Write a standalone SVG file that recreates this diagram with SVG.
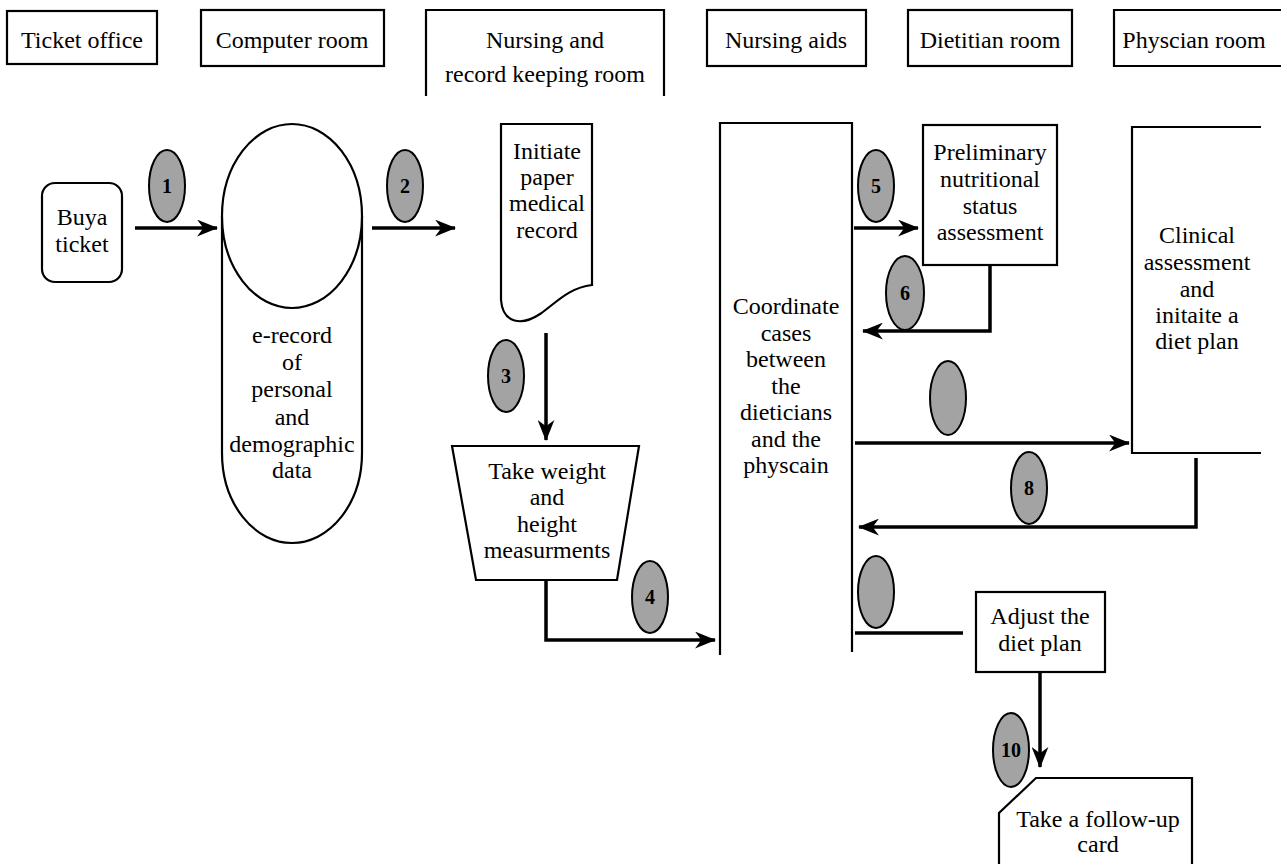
<svg xmlns="http://www.w3.org/2000/svg" width="1281" height="864" viewBox="0 0 1281 864">
<style>
  .box{fill:#fff;stroke:#000;stroke-width:2.2}
  .open{fill:none;stroke:#000;stroke-width:2.2}
  .t{font-family:"Liberation Serif","Times New Roman",serif;font-size:24px;fill:#000;text-anchor:middle}
  .badge{fill:#a3a3a3;stroke:#000;stroke-width:2}
  .bn{font-family:"Liberation Serif","Times New Roman",serif;font-size:20px;font-weight:bold;fill:#000;text-anchor:middle}
  .conn{fill:none;stroke:#000;stroke-width:3.5}
</style>
<defs>
  <marker id="ah" viewBox="0 0 20 16" refX="19" refY="8" markerWidth="21" markerHeight="17" markerUnits="userSpaceOnUse" orient="auto">
    <path d="M0,0 L20,8 L0,16 L6,8 Z" fill="#000"/>
  </marker>
</defs>
<rect width="1281" height="864" fill="#fff"/>

<g id="hdr-ticket"><rect class="box" x="7" y="11" width="150" height="53"/><text class="t" x="82" y="48">Ticket office</text></g>
<g id="hdr-computer"><rect class="box" x="201" y="10" width="183" height="56"/><text class="t" x="292" y="48">Computer room</text></g>
<g id="hdr-nursing"><path class="open" d="M426,96 V10 H664 V96"/><text class="t" x="545" y="48">Nursing and</text><text class="t" x="545" y="82">record keeping room</text></g>
<g id="hdr-aids"><rect class="box" x="707" y="10" width="159" height="56"/><text class="t" x="786" y="48">Nursing aids</text></g>
<g id="hdr-dietitian"><rect class="box" x="908" y="10" width="164" height="56"/><text class="t" x="990" y="48">Dietitian room</text></g>
<g id="hdr-physician"><path class="open" d="M1285,10 H1114 V66 H1285"/><text class="t" x="1194" y="48">Physcian room</text></g>

<g id="buy-ticket"><rect class="box" x="42" y="183" width="80" height="99" rx="13"/><text class="t" x="82" y="225">Buya</text><text class="t" x="82" y="252">ticket</text></g>

<g id="e-record">
  <path class="open" d="M222,216 V453 A70,90 0 0 0 362,453 V216"/>
  <ellipse class="box" cx="292" cy="216" rx="70" ry="92"/>
  <text class="t" x="292" y="343">e-record</text>
  <text class="t" x="292" y="370">of</text>
  <text class="t" x="292" y="397">personal</text>
  <text class="t" x="292" y="425">and</text>
  <text class="t" x="292" y="452">demographic</text>
  <text class="t" x="292" y="478">data</text>
</g>

<g id="paper-record">
  <path class="box" d="M501,124 H592 V285 C568,288 556,303 540,314 C522,326 503,324 501,300 Z"/>
  <text class="t" x="547" y="159">Initiate</text>
  <text class="t" x="547" y="185">paper</text>
  <text class="t" x="547" y="211">medical</text>
  <text class="t" x="547" y="238">record</text>
</g>

<g id="weight-height">
  <path class="box" d="M452,446 H639 L617,580 H476 Z"/>
  <text class="t" x="547" y="479">Take weight</text>
  <text class="t" x="547" y="505">and</text>
  <text class="t" x="547" y="532">height</text>
  <text class="t" x="547" y="558">measurments</text>
</g>

<g id="coordinate">
  <path class="open" d="M720,655 V123 H852 V652"/>
  <text class="t" x="786" y="314">Coordinate</text>
  <text class="t" x="786" y="341">cases</text>
  <text class="t" x="786" y="367">between</text>
  <text class="t" x="786" y="394">the</text>
  <text class="t" x="786" y="420">dieticians</text>
  <text class="t" x="786" y="447">and the</text>
  <text class="t" x="786" y="473">physcain</text>
</g>

<g id="preliminary">
  <rect class="box" x="923" y="125" width="134" height="140"/>
  <text class="t" x="990" y="160">Preliminary</text>
  <text class="t" x="990" y="187">nutritional</text>
  <text class="t" x="990" y="214">status</text>
  <text class="t" x="990" y="240">assessment</text>
</g>

<g id="clinical">
  <path class="open" d="M1261,127 H1132 V453 H1261"/>
  <text class="t" x="1197" y="243">Clinical</text>
  <text class="t" x="1197" y="270">assessment</text>
  <text class="t" x="1197" y="297">and</text>
  <text class="t" x="1197" y="323">initaite a</text>
  <text class="t" x="1197" y="349">diet plan</text>
</g>

<g id="adjust">
  <rect class="box" x="976" y="592" width="129" height="80"/>
  <text class="t" x="1040" y="624">Adjust the</text>
  <text class="t" x="1040" y="651">diet plan</text>
</g>

<g id="follow-up">
  <path class="box" d="M999,870 V813 L1036,778 H1192 V870"/>
  <text class="t" x="1098" y="827">Take a follow-up</text>
  <text class="t" x="1098" y="852">card</text>
</g>

<g id="connectors">
  <line class="conn" x1="135" y1="228" x2="217" y2="228" marker-end="url(#ah)"/>
  <line class="conn" x1="372" y1="228" x2="455" y2="228" marker-end="url(#ah)"/>
  <line class="conn" x1="546" y1="333" x2="546" y2="440" marker-end="url(#ah)"/>
  <path class="conn" d="M546,580 V640 H715" marker-end="url(#ah)"/>
  <line class="conn" x1="854" y1="228" x2="918" y2="228" marker-end="url(#ah)"/>
  <path class="conn" d="M990,265 V331 H863" marker-end="url(#ah)"/>
  <line class="conn" x1="855" y1="443" x2="1129" y2="443" marker-end="url(#ah)"/>
  <path class="conn" d="M1196,458 V527 H859" marker-end="url(#ah)"/>
  <line class="conn" x1="855" y1="633" x2="963" y2="633"/>
  <line class="conn" x1="1040" y1="672" x2="1040" y2="767" marker-end="url(#ah)"/>
</g>

<g id="badges">
  <ellipse class="badge" cx="167" cy="186" rx="18" ry="36"/><text class="bn" x="167" y="193">1</text>
  <ellipse class="badge" cx="405" cy="186" rx="18" ry="36"/><text class="bn" x="405" y="193">2</text>
  <ellipse class="badge" cx="506" cy="376" rx="18" ry="36"/><text class="bn" x="506" y="383">3</text>
  <ellipse class="badge" cx="650" cy="597" rx="18" ry="36"/><text class="bn" x="650" y="604">4</text>
  <ellipse class="badge" cx="876" cy="186" rx="18" ry="36"/><text class="bn" x="876" y="193">5</text>
  <ellipse class="badge" cx="905" cy="293" rx="19" ry="37"/><text class="bn" x="905" y="300">6</text>
  <ellipse class="badge" cx="948" cy="398" rx="18" ry="37"/>
  <ellipse class="badge" cx="1029" cy="488" rx="18" ry="36"/><text class="bn" x="1029" y="495">8</text>
  <ellipse class="badge" cx="876" cy="592" rx="18" ry="36"/>
  <ellipse class="badge" cx="1011" cy="750" rx="18" ry="37"/><text class="bn" x="1011" y="757">10</text>
</g>
</svg>
